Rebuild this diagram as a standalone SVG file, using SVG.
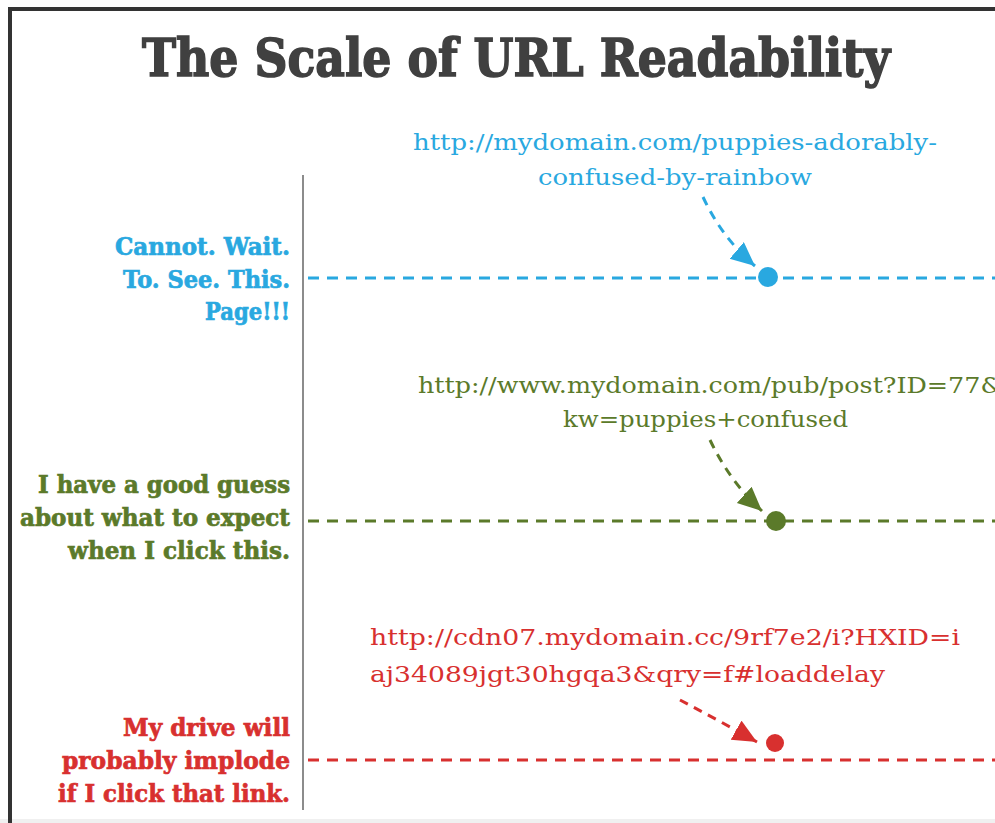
<svg xmlns="http://www.w3.org/2000/svg" width="995" height="823" viewBox="0 0 995 823">
<style>
.title{font-family:"DejaVu Serif","Liberation Serif",serif;font-weight:bold;font-size:52px;fill:#404040;stroke:#404040;stroke-width:1.6}
.lbl{font-family:"DejaVu Serif","Liberation Serif",serif;font-weight:bold;font-size:24px;text-anchor:end;stroke-width:0.7}
.url{font-family:"DejaVu Serif","Liberation Serif",serif;font-size:22px}
.blue{fill:#29a8e0}.green{fill:#5b7a2a}.red{fill:#d8302f}
.lbl.blue{stroke:#29a8e0}.lbl.green{stroke:#5b7a2a}.lbl.red{stroke:#d8302f}
.dash{fill:none;stroke-width:3;stroke-dasharray:11 8}
.adash{fill:none;stroke-width:3;stroke-dasharray:9 7}
</style>
<defs>
<marker id="ab" markerUnits="userSpaceOnUse" markerWidth="28" markerHeight="24" refX="24" refY="11" orient="auto"><path d="M0,0 L24,11 L0,22 z" fill="#29a8e0"/></marker>
<marker id="ag" markerUnits="userSpaceOnUse" markerWidth="28" markerHeight="24" refX="24" refY="11" orient="auto"><path d="M0,0 L24,11 L0,22 z" fill="#5b7a2a"/></marker>
<marker id="ar" markerUnits="userSpaceOnUse" markerWidth="28" markerHeight="24" refX="24" refY="11" orient="auto"><path d="M0,0 L24,11 L0,22 z" fill="#d8302f"/></marker>
</defs>
<rect width="995" height="823" fill="#ffffff"/>
<rect x="0" y="819" width="995" height="4" fill="#f0f0f0"/>
<rect x="8" y="7" width="987" height="4" fill="#333333"/>
<rect x="8" y="7" width="4" height="816" fill="#333333"/>
<text class="title" x="142" y="76" textLength="748" lengthAdjust="spacingAndGlyphs">The Scale of URL Readability</text>
<line x1="303" y1="175" x2="303" y2="810" stroke="#666666" stroke-width="1.5"/>

<g id="connectors">
<line class="dash" x1="308" y1="278" x2="995" y2="278" stroke="#29a8e0"/>
<line class="dash" x1="308" y1="521" x2="995" y2="521" stroke="#5b7a2a"/>
<line class="dash" x1="308" y1="760" x2="995" y2="760" stroke="#d8302f"/>
<path class="adash" d="M703,197 Q722,238 755,266" stroke="#29a8e0" marker-end="url(#ab)"/>
<path class="adash" d="M710,440 Q730,482 762,511" stroke="#5b7a2a" marker-end="url(#ag)"/>
<path class="adash" d="M680,700 Q718,720 757,742" stroke="#d8302f" marker-end="url(#ar)"/>
</g>

<g id="blue-label">
<text class="lbl blue" x="290" y="255" textLength="175" lengthAdjust="spacingAndGlyphs">Cannot. Wait.</text>
<text class="lbl blue" x="290" y="288" textLength="167" lengthAdjust="spacingAndGlyphs">To. See. This.</text>
<text class="lbl blue" x="290" y="320" textLength="85" lengthAdjust="spacingAndGlyphs">Page!!!</text>
</g>
<g id="blue-url">
<text class="url blue" x="413" y="150" textLength="524" lengthAdjust="spacingAndGlyphs">http://mydomain.com/puppies-adorably-</text>
<text class="url blue" x="538" y="185" textLength="274" lengthAdjust="spacingAndGlyphs">confused-by-rainbow</text>
</g>
<g id="blue-dot"><circle cx="768" cy="277" r="10" fill="#29a8e0"/></g>

<g id="green-label">
<text class="lbl green" x="290" y="493" textLength="252" lengthAdjust="spacingAndGlyphs">I have a good guess</text>
<text class="lbl green" x="290" y="526" textLength="270" lengthAdjust="spacingAndGlyphs">about what to expect</text>
<text class="lbl green" x="290" y="559" textLength="222" lengthAdjust="spacingAndGlyphs">when I click this.</text>
</g>
<g id="green-url">
<text class="url green" x="418" y="393" textLength="585" lengthAdjust="spacingAndGlyphs">http://www.mydomain.com/pub/post?ID=77&amp;</text>
<text class="url green" x="563" y="427" textLength="285" lengthAdjust="spacingAndGlyphs">kw=puppies+confused</text>
</g>
<g id="green-dot"><circle cx="776" cy="521" r="10" fill="#5b7a2a"/></g>

<g id="red-label">
<text class="lbl red" x="290" y="736" textLength="167" lengthAdjust="spacingAndGlyphs">My drive will</text>
<text class="lbl red" x="290" y="769" textLength="228" lengthAdjust="spacingAndGlyphs">probably implode</text>
<text class="lbl red" x="290" y="802" textLength="232" lengthAdjust="spacingAndGlyphs">if I click that link.</text>
</g>
<g id="red-url">
<text class="url red" x="370" y="645" textLength="590" lengthAdjust="spacingAndGlyphs">http://cdn07.mydomain.cc/9rf7e2/i?HXID=i</text>
<text class="url red" x="370" y="682" textLength="515" lengthAdjust="spacingAndGlyphs">aj34089jgt30hgqa3&amp;qry=f#loaddelay</text>
</g>
<g id="red-dot"><circle cx="775" cy="743" r="9" fill="#d8302f"/></g>
</svg>
